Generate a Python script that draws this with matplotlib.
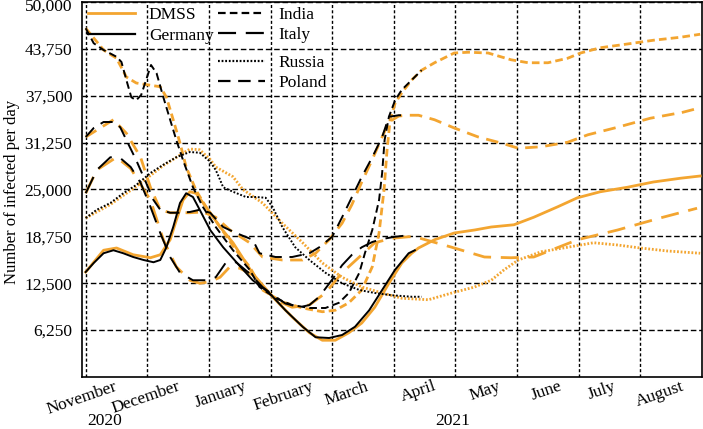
import matplotlib
matplotlib.use("Agg")
import matplotlib.pyplot as plt
from matplotlib.lines import Line2D
from matplotlib.transforms import ScaledTranslation

plt.rcParams['font.family'] = ['Liberation Serif', 'DejaVu Serif']
plt.rcParams['lines.scale_dashes'] = False

# ---------------- data (x = months since 1 November 2020) ----------------
months = ["November", "December", "January", "February", "March", "April",
          "May", "June", "July", "August"]
years = ["2020", "2021"]
y_ticks = [6250, 12500, 18750, 25000, 31250, 37500, 43750, 50000]

germany_x = [0, 0.13, 0.29, 0.45, 0.61, 0.77, 0.94, 1.10, 1.21, 1.31, 1.42, 1.53, 1.63, 1.74, 1.85,
             2.02, 2.23, 2.50, 2.71, 2.98, 3.24, 3.52, 3.73, 3.95, 4.16, 4.37, 4.60, 4.81, 5.02, 5.24, 5.34]
germany_y = [14000, 15200, 16500, 16900, 16500, 16000, 15600, 15300, 15600, 17300, 20000, 23200, 24500, 24000, 22300,
             19600, 17300, 14800, 12900, 11200, 8900, 6700, 5300, 5200, 5600, 6700, 8900, 11600, 14300, 16500, 16900]

germany_dmss_x = [0, 0.29, 0.50, 0.77, 1.05, 1.21, 1.37, 1.47, 1.58, 1.69, 1.79, 1.95, 2.18, 2.39, 2.71,
                  3.03, 3.35, 3.63, 3.84, 4.05, 4.27, 4.48, 4.69, 4.92, 5.13, 5.29, 5.40, 5.66, 5.98, 6.31,
                  6.58, 6.95, 7.27, 7.66, 7.98, 8.35, 8.79, 9.21, 9.65, 9.97]
germany_dmss_y = [14000, 16900, 17200, 16300, 15900, 16300, 18300, 20900, 23600, 24700, 24500, 22700, 20000, 17900, 13800,
                  10700, 8000, 5900, 4900, 4900, 5900, 7200, 9300, 12500, 15200, 16500, 17200, 18300, 19200, 19600,
                  20000, 20300, 21300, 22700, 23900, 24700, 25300, 26000, 26500, 26800]

india_x = [0, 0.13, 0.29, 0.50, 0.58, 0.66, 0.74, 0.82, 0.90, 0.98, 1.06, 1.15, 1.26, 1.37, 1.47, 1.58, 1.74,
           1.90, 2.11, 2.39, 2.66, 2.82, 3.08, 3.35, 3.63, 3.89, 4.11, 4.27, 4.44, 4.53, 4.65, 4.76, 4.81,
           4.85, 4.92, 5.02, 5.13, 5.29, 5.45]
india_y = [46500, 44500, 43600, 42700, 42000, 39600, 37300, 36900, 37600, 39600, 41600, 40500, 37300, 34300, 31600,
           28900, 25300, 22700, 20000, 16900, 14300, 12000, 10500, 9600, 9200, 9200, 9900, 11200, 13900, 16500,
           19600, 23600, 27200, 31600, 34700, 36900, 38300, 39600, 40900]

india_dmss_x = [0, 0.29, 0.50, 0.66, 0.82, 1.05, 1.21, 1.31, 1.42, 1.53, 1.63, 1.79, 1.95, 2.18, 2.44, 2.66,
                2.87, 3.19, 3.52, 3.84, 4.05, 4.27, 4.48, 4.65, 4.76, 4.84, 4.89, 4.94, 5.02, 5.13, 5.29,
                5.45, 5.66, 5.98, 6.21, 6.53, 6.90, 7.18, 7.50, 7.82, 8.03, 8.35, 8.79, 9.21, 9.65, 9.97]
india_dmss_y = [46500, 43600, 42500, 40000, 39200, 38900, 38700, 37300, 34300, 31200, 28000, 24900, 22700, 20000,
                16900, 14700, 11600, 10000, 9200, 8700, 8900, 9900, 11600, 14700, 19200, 24900, 30300, 34300,
                36500, 37900, 39600, 40900, 41900, 43200, 43300, 43200, 42300, 41900, 41900, 42500, 43200,
                43900, 44400, 44900, 45300, 45700]

italy_x = [0, 0.18, 0.40, 0.56, 0.73, 0.89, 1.05, 1.21, 1.37, 1.53, 1.74, 1.95, 2.11, 2.27, 2.44, 2.66,
           2.87, 3.03, 3.24, 3.47, 3.63, 3.79, 4.00, 4.16, 4.32, 4.48, 4.65, 4.81, 5.02, 5.24]
italy_y = [24500, 27600, 29300, 29200, 28000, 25900, 22700, 19200, 16000, 13900, 12900, 12900, 13300, 15200, 15300,
           13800, 12000, 11000, 9800, 9300, 9600, 10700, 13000, 14900, 16300, 17300, 18000, 18400, 18700, 18900]

italy_dmss_x = [0, 0.18, 0.50, 0.73, 1.05, 1.26, 1.47, 1.69, 1.85, 2.02, 2.18, 2.34, 2.50, 2.71, 3.08, 3.35,
                3.63, 3.89, 4.16, 4.44, 4.69, 4.97, 5.24, 5.34, 5.94, 6.47, 6.90, 7.27, 7.98, 8.63, 9.32, 9.92]
italy_dmss_y = [24500, 27600, 29300, 27800, 23600, 18300, 14700, 12900, 12500, 12700, 13300, 14700, 14500, 13600,
                10300, 9300, 9600, 11200, 13900, 16000, 17900, 18500, 18700, 18700, 17300, 16000, 15900, 16000,
                18300, 19600, 21200, 22500]

russia_x = [0, 0.18, 0.40, 0.61, 0.82, 1.05, 1.26, 1.47, 1.69, 1.85, 2.02, 2.11, 2.18, 2.23, 2.39, 2.60,
            2.76, 2.92, 3.03, 3.19, 3.40, 3.63, 3.89, 4.16, 4.44, 4.69, 4.97, 5.29, 5.45]
russia_y = [21200, 22300, 23200, 24500, 25600, 27200, 28300, 29300, 30000, 29900, 28700, 27600, 26300, 25300, 24700,
            24000, 24000, 23900, 22700, 20000, 17300, 15600, 13900, 12500, 11600, 11200, 10900, 10700, 10700]

russia_dmss_x = [0, 0.40, 0.82, 1.26, 1.69, 1.85, 2.02, 2.11, 2.39, 2.55, 2.87, 3.19, 3.52, 3.84, 4.16, 4.48,
                 4.81, 5.13, 5.56, 5.94, 6.31, 6.58, 6.79, 7.02, 7.39, 7.82, 8.24, 8.63, 9.00, 9.44, 9.97]
russia_dmss_y = [21200, 23000, 25400, 28200, 30400, 30300, 29000, 28000, 26700, 25000, 23200, 20500, 17900, 15200,
                 13300, 12000, 11200, 10500, 10300, 11200, 12000, 12900, 14300, 15600, 16700, 17300, 17900, 17600,
                 17200, 16800, 16500]

poland_x = [0, 0.13, 0.29, 0.45, 0.56, 0.66, 0.82, 0.98, 1.10, 1.21, 1.37, 1.53, 1.69, 1.85, 2.02, 2.23, 2.44,
            2.71, 2.82, 3.08, 3.35, 3.63, 3.79, 4.00, 4.16, 4.32, 4.48, 4.65, 4.81, 4.92, 5.08, 5.24]
poland_y = [32000, 33200, 34000, 34000, 33300, 31600, 28900, 25900, 23600, 22300, 21900, 21900, 22000, 22300, 21900,
            20000, 19200, 18300, 16500, 16000, 16000, 16500, 17300, 18700, 21300, 24000, 26700, 29300, 32000,
            34700, 34900, 34900]

poland_dmss_x = [0, 0.45, 0.66, 0.89, 1.05, 1.21, 1.37, 1.69, 1.90, 2.11, 2.34, 2.66, 2.87, 3.19, 3.52, 3.73,
                 3.95, 4.16, 4.32, 4.48, 4.65, 4.81, 4.92, 5.08, 5.24, 5.40, 5.66, 5.98, 6.37, 6.74, 7.02, 7.39,
                 7.82, 8.15, 8.63, 9.16, 9.69, 9.97]
poland_dmss_y = [32000, 34300, 32500, 29300, 25300, 22300, 21900, 21900, 22000, 21300, 19600, 17900, 16000, 15600,
                 15600, 16500, 18300, 20500, 23000, 26000, 29000, 32000, 34000, 34800, 34900, 34900, 34300, 33200,
                 32000, 31200, 30500, 30700, 31300, 32300, 33300, 34500, 35300, 35900]

# ---------------- styles ----------------
ORANGE = '#F3A530'
BLACK = '#000000'
styles = {
    'Germany': '-',
    'India': (0, (5.5, 3.0)),
    'Italy': (0, (13, 7)),
    'Russia': (0, (1.3, 1.3)),
    'Poland': (0, (9, 5.5)),
}

W, H = 703, 429
fig = plt.figure(figsize=(W / 100, H / 100), dpi=100)
ax = fig.add_axes([82 / W, 1 - 377 / H, 620 / W, 375 / H])

series = [
    ('India', india_x, india_y, india_dmss_x, india_dmss_y),
    ('Poland', poland_x, poland_y, poland_dmss_x, poland_dmss_y),
    ('Italy', italy_x, italy_y, italy_dmss_x, italy_dmss_y),
    ('Russia', russia_x, russia_y, russia_dmss_x, russia_dmss_y),
    ('Germany', germany_x, germany_y, germany_dmss_x, germany_dmss_y),
]
for name, ax_, ay_, dx_, dy_ in series:
    ax.plot(dx_, dy_, color=ORANGE, lw=2.0, ls=styles[name], zorder=3)
for name, ax_, ay_, dx_, dy_ in series:
    ax.plot(ax_, ay_, color=BLACK, lw=1.4, ls=styles[name], zorder=4)

ax.set_xlim(0, 10)
ax.set_ylim(0, 50000)

# grid
ax.set_xticks(range(0, 10))
ax.set_xticklabels([])
ax.xaxis.grid(True, color='black', linestyle=(0, (2.2, 1.6)), linewidth=1.0)
ax.set_yticks(y_ticks)
ax.set_yticklabels([f"{v:,}" for v in y_ticks], fontsize=12.5)
ax.yaxis.grid(True, color='black', linestyle=(0, (4, 2)), linewidth=1.0)
ax.set_axisbelow(True)
ax.tick_params(axis='both', length=0)
ax.tick_params(axis='y', pad=7)
# keep the top label fully inside the canvas
top_lab = ax.get_yticklabels()[-1]
top_lab.set_transform(top_lab.get_transform() + ScaledTranslation(0, -3 / 100, fig.dpi_scale_trans))

# month labels (slightly offset from grid lines as in the original)
label_pos = [-0.06, 0.97, 2.19, 3.21, 4.24, 5.40, 6.48, 7.48, 8.37, 9.32]
ax.set_xticks(label_pos, minor=True)
ax.set_xticklabels(months, minor=True, rotation=19, ha='center', fontsize=12.5)
ax.tick_params(axis='x', which='minor', length=0, pad=1)

for sp in ax.spines.values():
    sp.set_linewidth(1.2)
    sp.set_color('black')

fig.text(105 / W, 1 - 421 / H, years[0], ha='center', va='center', fontsize=12.5)
fig.text(453 / W, 1 - 421 / H, years[1], ha='center', va='center', fontsize=12.5)
fig.text(12 / W, 1 - 192 / H, "Number of infected per day", rotation=90,
         ha='center', va='center', fontsize=12)

# legends
def mk(ls, color, lw):
    return Line2D([0], [0], color=color, ls=ls, lw=lw)

leg_kw = dict(frameon=False, fontsize=12.5, borderpad=0, borderaxespad=0,
              handlelength=2.7, handletextpad=0.8, labelspacing=0.25, loc='upper left')
l1 = ax.legend([mk('-', ORANGE, 2.0), mk('-', BLACK, 1.6)], ["DMSS", "Germany"],
               bbox_to_anchor=(0.0097, 0.986), **leg_kw)
ax.add_artist(l1)
l2 = ax.legend([mk(styles['India'], BLACK, 1.6), mk(styles['Italy'], BLACK, 1.6)], ["India", "Italy"],
               bbox_to_anchor=(0.219, 0.988), **leg_kw)
ax.add_artist(l2)
l3 = ax.legend([mk(styles['Russia'], BLACK, 1.6), mk(styles['Poland'], BLACK, 1.6)], ["Russia", "Poland"],
               bbox_to_anchor=(0.219, 0.860), **leg_kw)

fig.savefig("out.png", dpi=100)
